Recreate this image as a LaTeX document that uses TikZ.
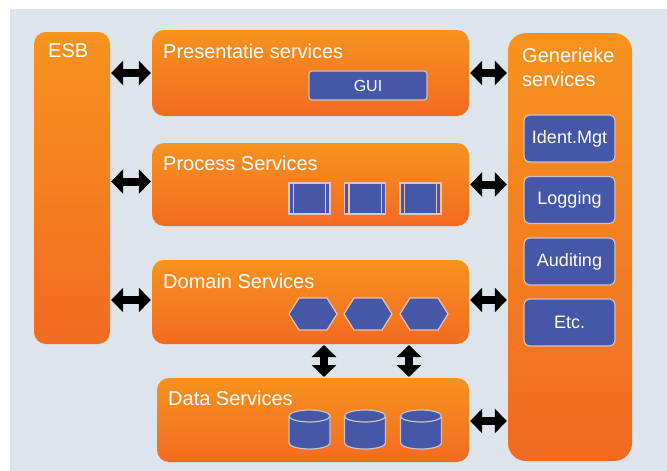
\documentclass[tikz,border=0pt]{standalone}
\usepackage{fontspec}
\setmainfont{Liberation Sans}
\usetikzlibrary{arrows.meta,calc}
\definecolor{panel}{HTML}{DDE4EC}
\definecolor{orTop}{HTML}{F7931E}
\definecolor{orBot}{HTML}{F26A22}
\definecolor{blu}{HTML}{4557A6}
\definecolor{bluedge}{HTML}{C9C2C8}
\definecolor{peach}{HTML}{E8C4B0}
\tikzset{
  orangebox/.style={draw=none, rounded corners=12pt, top color=orTop, bottom color=orBot, inner sep=0pt},
  bluebox/.style={draw=bluedge, line width=1.2pt, fill=blu, rounded corners=6pt, inner sep=0pt, text=white, font=\fontsize{18}{21}\selectfont},
  procbox/.style={draw=peach, line width=1.2pt, fill=blu, inner sep=0pt, minimum width=41pt, minimum height=31pt},
  titletext/.style={text=white, anchor=base west, inner sep=0pt, font=\fontsize{20}{24}\selectfont},
  dblarrow/.style={draw=black, line width=8pt, {Triangle[length=12pt,width=24pt]}-{Triangle[length=12pt,width=24pt]}, shorten <=1pt, shorten >=1pt},
  hexshape/.style={draw=peach, line width=1.2pt, fill=blu},
  cylshape/.style={draw=bluedge, line width=1.2pt, fill=blu}
}
\begin{document}
\begin{tikzpicture}[x=1pt,y=-1pt]
\useasboundingbox (0,0) rectangle (667,471);
\fill[white] (0,0) rectangle (667,471);
\fill[panel] (10,9) rectangle (667,471);

% main boxes
\node[orangebox, minimum width=76pt, minimum height=312pt] (esb) at (72,188) {};
\node[orangebox, minimum width=317pt, minimum height=86pt] (pres) at (310.5,73) {};
\node[orangebox, minimum width=317pt, minimum height=83pt] (proc) at (310.5,184.5) {};
\node[orangebox, minimum width=317pt, minimum height=84pt] (dom) at (310.5,302) {};
\node[orangebox, minimum width=312pt, minimum height=84pt] (data) at (313,420) {};
\node[orangebox, rounded corners=18pt, minimum width=124pt, minimum height=428pt] (gen) at (570,247) {};

% titles
\node[titletext] (tesb) at (48,57) {ESB};
\node[titletext] (tpres) at (163,58) {Presentatie services};
\node[titletext] (tproc) at (163,170) {Process Services};
\node[titletext] (tdom) at (163,288) {Domain Services};
\node[titletext] (tdata) at (168,405) {Data Services};
\node[titletext] (tgen1) at (522,62) {Generieke};
\node[titletext] (tgen2) at (522,86) {services};

% GUI
\node[bluebox, rounded corners=3pt, minimum width=118pt, minimum height=29pt, font=\fontsize{16}{19}\selectfont] (gui) at (368,85.5) {GUI};

% generic services
\node[bluebox, minimum width=91pt, minimum height=47pt] (ident) at (569.5,138.5) {Ident.Mgt};
\node[bluebox, minimum width=91pt, minimum height=47pt] (log) at (569.5,200) {Logging};
\node[bluebox, minimum width=91pt, minimum height=47pt] (aud) at (569.5,261.5) {Auditing};
\node[bluebox, minimum width=91pt, minimum height=47pt] (etc) at (569.5,322.5) {Etc.};

% process boxes
\foreach \cx/\nm in {309.5/p1,365/p2,420.5/p3}{
  \node[procbox] (\nm) at (\cx,198.5) {};
  \draw[peach, line width=1.2pt] ([xshift=5pt]\nm.north west) -- ([xshift=5pt]\nm.south west);
  \draw[peach, line width=1.2pt] ([xshift=-5pt]\nm.north east) -- ([xshift=-5pt]\nm.south east);
}

% hexagons
\foreach \cx in {313,368,424}{
  \draw[hexshape] (\cx-24,314) -- (\cx-14,298) -- (\cx+14,298) -- (\cx+24,314) -- (\cx+14,330) -- (\cx-14,330) -- cycle;
}

% cylinders
\foreach \cx in {309.5,365,421}{
  \draw[cylshape] (\cx-20.5,416) -- (\cx-20.5,443) arc[start angle=180,end angle=360,x radius=20.5pt,y radius=6pt] -- (\cx+20.5,416);
  \draw[cylshape] (\cx,416) ellipse[x radius=20.5pt,y radius=6pt];
}

% connectors
\coordinate (v1t) at (324,344);
\coordinate (v1b) at (324,378);
\coordinate (v2t) at (409,344);
\coordinate (v2b) at (409,378);
\draw[dblarrow] (esb.east |- pres.west) -- (pres.west);
\draw[dblarrow] ($(esb.east |- proc.west)+(0,-3)$) -- ($(proc.west)+(0,-3)$);
\draw[dblarrow] ($(esb.east |- dom.west)+(0,-2)$) -- ($(dom.west)+(0,-2)$);
\draw[dblarrow] (pres.east) -- (gen.west |- pres.east);
\draw[dblarrow] (proc.east) -- (gen.west |- proc.east);
\draw[dblarrow] ($(dom.east)+(0,-2)$) -- ($(gen.west |- dom.east)+(0,-2)$);
\draw[dblarrow] ($(data.east)+(0,1)$) -- ($(gen.west |- data.east)+(0,1)$);
\draw[dblarrow] (v1t) -- (v1b);
\draw[dblarrow] (v2t) -- (v2b);
\end{tikzpicture}
\end{document}
